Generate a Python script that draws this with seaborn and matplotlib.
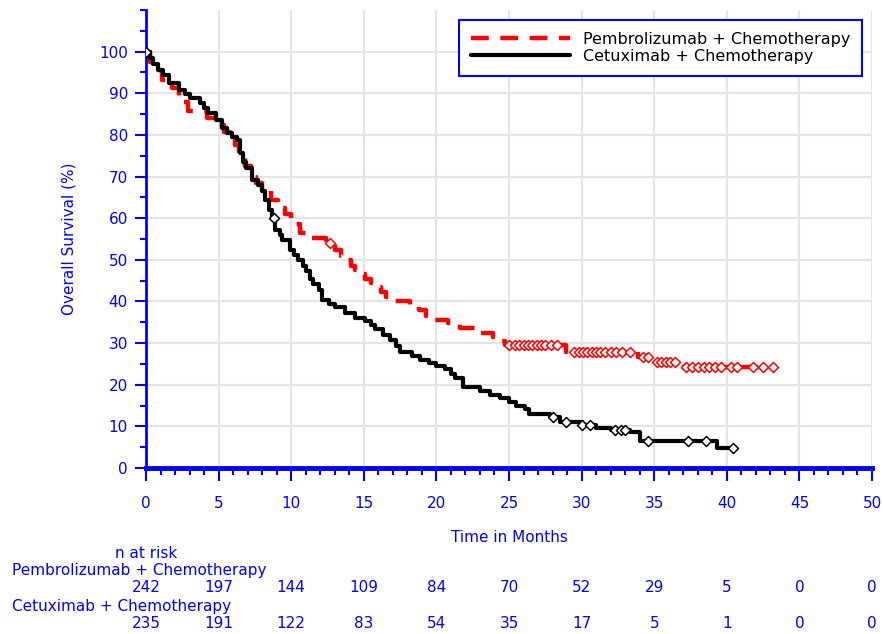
import numpy as np
import pandas as pd
import matplotlib
matplotlib.use("Agg")
import matplotlib.pyplot as plt
import matplotlib.transforms as mtransforms
from matplotlib.ticker import MultipleLocator
import seaborn as sns

# ---------------- data ----------------
arm_pembro = "Pembrolizumab + Chemotherapy"
arm_cetux = "Cetuximab + Chemotherapy"

pembro_t = [0, 0.3, 0.5, 1.1, 1.8, 2.3, 2.9, 4.2, 4.8, 5.4, 5.8, 6.1, 6.4, 6.8, 7.2,
            7.6, 8.0, 8.6, 9.1, 9.6, 10.0, 10.3, 10.6, 11.0, 12.4, 13.0, 13.4, 13.7,
            14.1, 14.4, 14.8, 15.1, 15.5, 15.8, 16.2, 16.5, 17.0, 18.2, 18.8, 19.3,
            19.6, 20.8, 21.6, 23.1, 23.9, 24.3, 24.7, 28.9, 33.9, 34.9, 36.8, 43.3]
pembro_s = [100, 97.5, 95.7, 93.3, 91.3, 88.0, 85.8, 84.0, 82.5, 80.8, 79.0, 77.5,
            75.2, 72.5, 70.0, 68.5, 67.0, 64.4, 62.5, 61.0, 59.5, 58.5, 56.5, 55.3,
            54.0, 52.4, 51.0, 50.0, 48.6, 47.6, 46.5, 45.5, 44.5, 43.5, 42.2, 41.1,
            40.0, 39.2, 38.0, 36.5, 35.6, 34.8, 33.7, 32.4, 31.5, 30.5, 29.6, 27.9,
            26.6, 25.5, 24.3, 24.3]

pembro_cens_t = [12.7, 25.0, 25.4, 25.7, 26.0, 26.3, 26.6, 26.9, 27.2, 27.5, 27.9, 28.3,
                 29.5, 29.8, 30.1, 30.4, 30.7, 31.0, 31.3, 31.6, 32.0, 32.4, 32.8, 33.3,
                 34.2, 34.6, 35.2, 35.5, 35.8, 36.1, 36.4, 37.2, 37.6, 38.0, 38.4,
                 38.8, 39.2, 39.6, 40.3, 40.7, 41.8, 42.5, 43.2]
pembro_cens_s = [54.0, 29.6, 29.6, 29.6, 29.6, 29.6, 29.6, 29.6, 29.6, 29.6, 29.6, 29.6,
                 27.9, 27.9, 27.9, 27.9, 27.9, 27.9, 27.9, 27.9, 27.9, 27.9, 27.9, 27.9,
                 26.6, 26.6, 25.5, 25.5, 25.5, 25.5, 25.5, 24.3, 24.3, 24.3, 24.3,
                 24.3, 24.3, 24.3, 24.3, 24.3, 24.3, 24.3, 24.3]

cetux_t = [0, 0.3, 0.5, 0.8, 1.2, 1.6, 2.3, 2.7, 3.0, 3.7, 4.0, 4.3, 4.8, 5.2, 5.6, 5.9,
           6.3, 6.5, 6.7, 6.9, 7.3, 7.7, 8.0, 8.2, 8.5, 8.7, 8.9, 9.2, 9.4, 9.9, 10.2,
           10.5, 10.8, 11.0, 11.3, 11.5, 11.9, 12.1, 12.6, 13.0, 13.7, 14.4, 15.1, 15.5,
           15.8, 16.3, 16.8, 17.2, 17.5, 18.3, 18.9, 19.5, 20.0, 20.6, 21.0, 21.3, 21.8,
           23.0, 23.7, 24.4, 25.0, 25.5, 26.1, 26.4, 27.8, 28.5, 30.0, 31.0, 32.0, 33.3,
           34.0, 39.3, 40.5]
cetux_s = [100, 98.5, 97.0, 95.7, 94.5, 92.5, 90.9, 89.8, 88.9, 87.7, 86.5, 85.3, 83.7,
           81.7, 80.5, 79.6, 78.8, 75.7, 73.5, 72.0, 69.2, 68.0, 66.5, 64.4, 62.0, 60.0,
           57.2, 56.0, 54.8, 52.4, 51.2, 50.0, 48.5, 47.2, 45.5, 44.2, 42.8, 40.4, 39.5,
           38.7, 37.3, 36.0, 35.4, 34.3, 33.4, 32.0, 30.8, 29.2, 27.9, 26.8, 26.0, 25.3,
           24.6, 23.8, 22.5, 21.6, 19.5, 18.5, 17.5, 16.8, 15.8, 15.0, 14.2, 13.0, 12.3,
           11.1, 10.3, 9.6, 9.1, 8.6, 6.5, 4.8, 4.8]

cetux_cens_t = [0.0, 8.8, 28.0, 28.9, 30.0, 30.6, 32.3, 32.7, 33.0, 34.6, 37.3, 38.6, 40.4]
cetux_cens_s = [100.0, 60.0, 12.3, 11.1, 10.3, 10.3, 9.1, 9.1, 9.1, 6.5, 6.5, 6.5, 4.8]

risk_times = [0, 5, 10, 15, 20, 25, 30, 35, 40, 45, 50]
risk_pembro = [242, 197, 144, 109, 84, 70, 52, 29, 5, 0, 0]
risk_cetux = [235, 191, 122, 83, 54, 35, 17, 5, 1, 0, 0]

# ---------------- plot ----------------
sns.set_theme(style="white")
plt.rcParams['font.family'] = ['DejaVu Sans']

BLUE = "#0000ff"
RED = "#ff0000"

fig = plt.figure(figsize=(8.83, 6.34), dpi=100)
ax = fig.add_axes([146/883, 1-468/634, (872-146)/883, (468-10)/634])

df_p = pd.DataFrame({"t": pembro_t, "s": pembro_s})
df_c = pd.DataFrame({"t": cetux_t, "s": cetux_s})

sns.lineplot(data=df_p, x="t", y="s", ax=ax, drawstyle="steps-post", color=RED,
             lw=3.2, estimator=None, sort=False, label=arm_pembro,
             dashes=False, linestyle=(0, (4.0, 2.6)), zorder=3)
sns.lineplot(data=df_c, x="t", y="s", ax=ax, drawstyle="steps-post", color="black",
             lw=3.0, estimator=None, sort=False, label=arm_cetux, zorder=4)

sns.scatterplot(x=pembro_cens_t, y=pembro_cens_s, ax=ax, marker="D", s=26,
                facecolor="white", edgecolor=RED, linewidth=1.1, zorder=5, legend=False)
sns.scatterplot(x=cetux_cens_t, y=cetux_cens_s, ax=ax, marker="D", s=26,
                facecolor="white", edgecolor="black", linewidth=1.1, zorder=6, legend=False)

ax.set_xlim(0, 50)
ax.set_ylim(0, 110)
ax.xaxis.set_major_locator(MultipleLocator(5))
ax.xaxis.set_minor_locator(MultipleLocator(1))
ax.set_yticks(range(0, 101, 10))
ax.yaxis.set_minor_locator(MultipleLocator(5))

ax.grid(True, which="major", axis="both", color="#e4e4e4", lw=1.5, zorder=0)
ax.set_axisbelow(True)
for sp in ["top", "right"]:
    ax.spines[sp].set_visible(False)
ax.spines["left"].set_color(BLUE)
ax.spines["left"].set_linewidth(2.0)
ax.spines["bottom"].set_color(BLUE)
ax.spines["bottom"].set_linewidth(3.5)

ax.tick_params(axis="both", which="both", colors=BLUE, labelcolor=BLUE,
               direction="out", labelsize=11)
ax.tick_params(axis="y", which="major", length=8, width=1.5, pad=5, left=True)
ax.tick_params(axis="y", which="minor", length=4.5, width=1.5, left=True)
ax.tick_params(axis="x", which="major", length=9, width=1.5, pad=11, bottom=True)
ax.tick_params(axis="x", which="minor", length=5, width=1.5, bottom=True)

ax.set_xlabel("Time in Months", color=BLUE, fontsize=11)
ax.set_ylabel("Overall Survival (%)", color=BLUE, fontsize=11)
ax.xaxis.set_label_coords(0.5, (468-530)/458)
ax.yaxis.set_label_coords((77-146)/726, 0.5)

leg = ax.legend(loc="upper right", bbox_to_anchor=((862-146)/726, (468-20)/458),
                fontsize=11.5, frameon=True, fancybox=False, handlelength=6.2,
                labelspacing=0.12, borderpad=0.75, handletextpad=0.8,
                borderaxespad=0, labelcolor="black")
leg.get_frame().set_edgecolor(BLUE)
leg.get_frame().set_linewidth(1.5)
leg.get_frame().set_facecolor("white")
leg.get_frame().set_alpha(1)

# number at risk table
trans = mtransforms.blended_transform_factory(ax.transData, fig.transFigure)
fig.text(115/883, 1-553/634, "n at risk", color=BLUE, fontsize=11, ha="left", va="center")
fig.text(12/883, 1-571/634, arm_pembro, color=BLUE, fontsize=11, ha="left", va="center")
fig.text(12/883, 1-607/634, arm_cetux, color=BLUE, fontsize=11, ha="left", va="center")
for t, n in zip(risk_times, risk_pembro):
    ax.text(t, 1-588/634, str(n), transform=trans, color=BLUE, fontsize=11,
            ha="center", va="center", clip_on=False)
for t, n in zip(risk_times, risk_cetux):
    ax.text(t, 1-624/634, str(n), transform=trans, color=BLUE, fontsize=11,
            ha="center", va="center", clip_on=False)

fig.savefig("out.png", dpi=100)
